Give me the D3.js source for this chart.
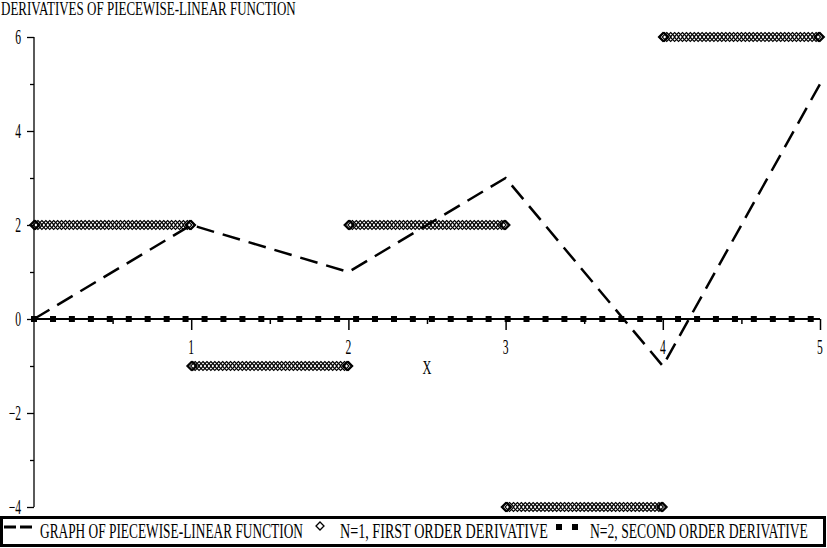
<!DOCTYPE html>
<html><head><meta charset="utf-8">
<script src="https://cdn.jsdelivr.net/npm/d3@7/dist/d3.min.js"></script>
<style>
body{margin:0;background:#fff}
svg{display:block}
text{font-family:"Liberation Serif","Times New Roman",serif;fill:#000}
</style>
</head><body>
<svg id="chart" width="827" height="548"></svg>
<script>
// ---- data ----
const chartTitle = "DERIVATIVES OF PIECEWISE-LINEAR FUNCTION";
const xAxisLabel = "X";
// piecewise-linear function vertices
const funcX = [0, 1, 2, 3, 4, 5];
const funcY = [0, 2, 1, 3, -1, 5];
// first derivative: constant on each piece
const derivStart = [0, 1, 2, 3, 4];
const derivEnd   = [1, 2, 3, 4, 5];
const derivValue = [2, -1, 2, -4, 6];
// sampling positions (fraction of each piece) where the plot drew a diamond
const derivSampleOffsets = [0, 0.005, 0.01, 0.025, 0.05, 0.075, 0.10, 0.125, 0.15, 0.175, 0.20,
  0.225, 0.25, 0.275, 0.30, 0.325, 0.35, 0.375, 0.40, 0.425, 0.45, 0.475, 0.50, 0.525, 0.55,
  0.575, 0.60, 0.625, 0.65, 0.675, 0.70, 0.725, 0.75, 0.775, 0.80, 0.825, 0.85, 0.875, 0.90,
  0.925, 0.95, 0.975, 0.99, 0.995, 1.0];
// second derivative sample points (value 0)
const secondX = [0, 0.121, 0.241, 0.362, 0.482, 0.603, 0.723, 0.844, 0.964, 1.085, 1.205, 1.326,
  1.446, 1.567, 1.687, 1.808, 1.928, 2.049, 2.169, 2.290, 2.410, 2.531, 2.651, 2.772, 2.892,
  3.013, 3.133, 3.254, 3.374, 3.495, 3.615, 3.736, 3.856, 3.977, 4.097, 4.218, 4.338, 4.459,
  4.579, 4.700, 4.820, 4.941];
const secondY = 0;
// ticks
const xMajorTicks = [1, 2, 3, 4, 5];
const xMinorTicks = [0.5, 1.5, 2.5, 3.5, 4.5];
const yMajorTicks = [-4, -2, 0, 2, 4, 6];
const yMinorTicks = [-3, -1, 1, 3, 5];
const legendLabels = ["GRAPH OF PIECEWISE-LINEAR FUNCTION", "N=1, FIRST ORDER DERIVATIVE", "N=2, SECOND ORDER DERIVATIVE"];

// ---- drawing ----
const svg = d3.select("#chart");
const x = d3.scaleLinear().domain([0, 5]).range([34, 820]);
const y = d3.scaleLinear().domain([-4, 6]).range([507, 37]);
const CONDENSE = 0.58;

// narrow text horizontally via a transform (keeps its real bounding box honest)
function narrowText(parent, tx, ty, str, size, opts) {
  const t = parent.append("text").attr("x", 0).attr("y", 0).attr("font-size", size)
    .attr("text-anchor", opts.anchor || "start").text(str);
  const w = t.node().getComputedTextLength();
  const f = opts.width ? opts.width / w : opts.factor;
  t.attr("transform", `translate(${tx},${ty}) scale(${f},1)`);
  return t;
}

// title
narrowText(svg, 1, 15, chartTitle, 18, { width: 295 });

// y axis
const yAx = svg.append("g").attr("transform", `translate(${x(0)},0)`)
  .call(d3.axisLeft(y).tickValues(yMajorTicks).tickSize(7).tickFormat(""));
yAx.select(".domain").remove();
yAx.selectAll(".tick line").attr("stroke", "#000").attr("stroke-width", 1.3);
const yMin = svg.append("g").attr("transform", `translate(${x(0)},0)`)
  .call(d3.axisLeft(y).tickValues(yMinorTicks).tickSize(4).tickFormat(""));
yMin.select(".domain").remove();
yMin.selectAll(".tick line").attr("stroke", "#000").attr("stroke-width", 1.3);
svg.append("line").attr("x1", x(0)).attr("x2", x(0)).attr("y1", y(6)).attr("y2", y(-4))
  .attr("stroke", "#000").attr("stroke-width", 1.3);
const yLab = svg.append("g");
yMajorTicks.forEach(v => narrowText(yLab, x(0) - 13, y(v) + 7, d3.format("d")(v), 20, { anchor: "end", factor: CONDENSE }));

// x axis
const xAx = svg.append("g").attr("transform", `translate(0,${y(0)})`)
  .call(d3.axisBottom(x).tickValues(xMajorTicks).tickSize(11).tickFormat(""));
xAx.select(".domain").remove();
xAx.selectAll(".tick line").attr("stroke", "#000").attr("stroke-width", 1.5);
const xMin = svg.append("g").attr("transform", `translate(0,${y(0)})`)
  .call(d3.axisBottom(x).tickValues(xMinorTicks).tickSize(5).tickFormat(""));
xMin.select(".domain").remove();
xMin.selectAll(".tick line").attr("stroke", "#000").attr("stroke-width", 1.5);
svg.append("line").attr("x1", x(0)).attr("x2", x(5)).attr("y1", y(0)).attr("y2", y(0))
  .attr("stroke", "#000").attr("stroke-width", 2);
const xLab = svg.append("g");
xMajorTicks.forEach(v => narrowText(xLab, x(v), y(0) + 35, d3.format("d")(v), 20, { anchor: "middle", factor: CONDENSE }));
narrowText(svg, 427, 374, xAxisLabel, 19, { anchor: "middle", factor: 0.65 });

// first derivative diamonds
const derivPts = [];
derivValue.forEach((v, i) => {
  derivSampleOffsets.forEach(o => derivPts.push({ x: derivStart[i] + o * (derivEnd[i] - derivStart[i]), y: v }));
});
const diamond = "M0,-4.5L4.5,0L0,4.5L-4.5,0Z";
svg.append("g").selectAll("path").data(derivPts).join("path")
  .attr("d", diamond).attr("transform", d => `translate(${x(d.x)},${y(d.y)})`)
  .attr("fill", "none").attr("stroke", "#000").attr("stroke-width", 1.1);

// second derivative boxes
svg.append("g").selectAll("rect").data(secondX).join("rect")
  .attr("x", d => x(d) - 3).attr("y", y(secondY) - 3).attr("width", 6).attr("height", 6)
  .attr("fill", "#000");

// function graph (dashed)
const line = d3.line().x(d => x(d[0])).y(d => y(d[1]));
svg.append("path").datum(funcX.map((v, i) => [v, funcY[i]])).attr("d", line)
  .attr("fill", "none").attr("stroke", "#000").attr("stroke-width", 2.5)
  .attr("stroke-dasharray", "18,9");

// legend
const lg = svg.append("g");
lg.append("rect").attr("x", 1.5).attr("y", 517.5).attr("width", 823).attr("height", 28)
  .attr("fill", "none").attr("stroke", "#000").attr("stroke-width", 3);
lg.append("line").attr("x1", 4).attr("x2", 35).attr("y1", 527).attr("y2", 527)
  .attr("stroke", "#000").attr("stroke-width", 3).attr("stroke-dasharray", "12,4");
narrowText(lg, 40, 538, legendLabels[0], 20, { width: 263 });
lg.append("path").attr("d", "M0,-4L4,0L0,4L-4,0Z").attr("transform", "translate(320,526)")
  .attr("fill", "none").attr("stroke", "#000").attr("stroke-width", 1.3);
narrowText(lg, 340, 538, legendLabels[1], 20, { width: 208 });
[559, 575].forEach(cx => lg.append("rect").attr("x", cx - 3).attr("y", 524).attr("width", 6).attr("height", 6).attr("fill", "#000"));
narrowText(lg, 590, 538, legendLabels[2], 20, { width: 218 });
</script>
</body></html>
